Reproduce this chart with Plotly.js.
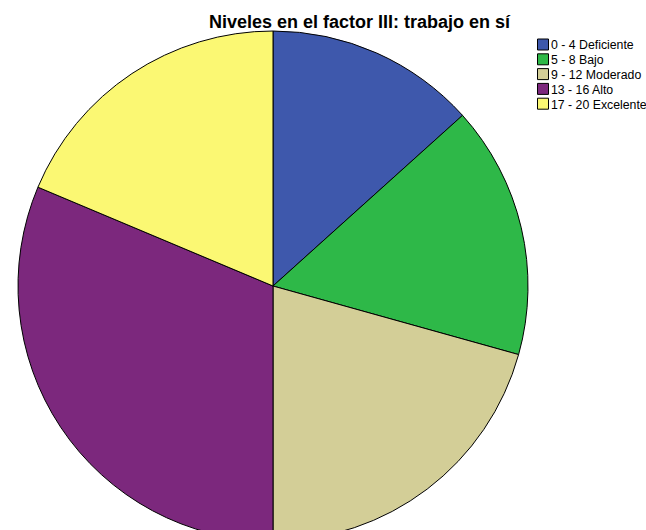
<!DOCTYPE html>
<html>
<head>
<meta charset="utf-8">
<script src="https://cdn.plot.ly/plotly-3.0.1.min.js"></script>
<style>
html,body{margin:0;padding:0;overflow:hidden;background:#fff;}
#chart{width:646px;height:560px;}
</style>
</head>
<body>
<div id="chart"></div>
<script>
const categories = ["0 - 4 Deficiente", "5 - 8 Bajo", "9 - 12 Moderado", "13 - 16 Alto", "17 - 20 Excelente"];
const counts = [20, 24, 31, 47, 28];
const colors = ["#3E58AC", "#2EB848", "#D3CE97", "#7C287D", "#FBF873"];
const titleText = "Niveles en el factor III: trabajo en sí";

const W = 646, H = 560;
const cx = 273, cy = 286, r = 255;

const trace = {
  type: "pie",
  labels: categories,
  values: counts,
  sort: false,
  direction: "clockwise",
  rotation: 0,
  textinfo: "none",
  hoverinfo: "label+value+percent",
  marker: {colors: colors, line: {color: "#000000", width: 1}},
  domain: {x: [(cx - r) / W, (cx + r) / W], y: [(H - cy - r) / H, (H - cy + r) / H]}
};

const layout = {
  width: W, height: H,
  margin: {l: 0, r: 0, t: 0, b: 0, autoexpand: false},
  paper_bgcolor: "#ffffff",
  font: {family: "Liberation Sans, Arial, sans-serif", color: "#000"},
  title: {text: "<b>" + titleText + "</b>", x: 359.5 / W, xanchor: "center", y: 1 - 22 / H, yanchor: "middle",
          font: {size: 18, family: "Liberation Sans, Arial, sans-serif", color: "#000"}},
  showlegend: true,
  legend: {x: 520 / W, xanchor: "left", y: 1 - 30 / H, yanchor: "top", font: {size: 12.3}, bgcolor: "rgba(0,0,0,0)"}
};

function tightenLegend() {
  const gd = document.getElementById("chart");
  const items = gd.querySelectorAll(".legend .traces");
  const sx = 543, sy0 = 44.5, step = 14.8;
  items.forEach((g, i) => {
    const sym = g.querySelector(".legendpie");
    if (!sym) return;
    sym.setAttribute("d", "M5.5,5.5H-5.5V-5.5H5.5Z");
    const b = sym.getBoundingClientRect();
    const curX = b.left + b.width / 2, curY = b.top + b.height / 2;
    const m = /translate\(\s*([-\d.]+)[ ,]+([-\d.]+)\s*\)/.exec(g.getAttribute("transform") || "translate(0,0)");
    const tx = parseFloat(m ? m[1] : 0), ty = parseFloat(m ? m[2] : 0);
    g.setAttribute("transform", "translate(" + (tx + sx - curX) + "," + (ty + sy0 + i * step - curY) + ")");
    const t = g.querySelector(".legendtext");
    if (t) {
      const symM = /translate\(\s*([-\d.]+)/.exec(sym.getAttribute("transform") || "");
      const symX = symM ? parseFloat(symM[1]) : 20;
      t.setAttribute("x", symX + 8);
    }
  });
}

Plotly.newPlot("chart", [trace], layout, {displayModeBar: false, staticPlot: true}).then(tightenLegend);
</script>
</body>
</html>
